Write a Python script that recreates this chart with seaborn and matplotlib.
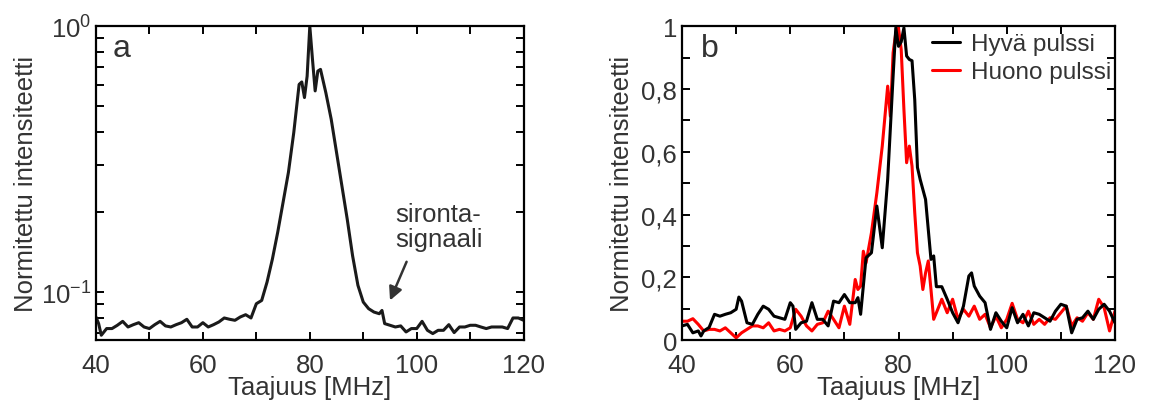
import numpy as np
import pandas as pd
import matplotlib
matplotlib.use("Agg")
import matplotlib.pyplot as plt
from matplotlib.ticker import FixedLocator, FuncFormatter, LogLocator, NullFormatter
import seaborn as sns

# ---------------- data ----------------
# panel a (log scale)
freq_a = [40, 40.5, 41, 42, 43, 44, 45, 46, 47, 48, 49, 50, 51, 52, 53, 54, 55, 56, 57, 58, 59,
          60, 61, 62, 63, 64, 65, 66, 67, 68, 69, 70, 71, 72, 73, 74, 75, 76, 77, 78, 78.5, 79,
          79.5, 80, 80.5, 81, 81.5, 82, 83, 84, 85, 86, 87, 88, 89, 90, 91, 92, 93, 93.5, 94,
          95, 96, 97, 98, 99, 100, 101, 102, 103, 104, 105, 106, 107, 108, 109, 110, 111, 112,
          113, 114, 115, 116, 117, 118, 119, 120]
int_a = [0.0806, 0.0761, 0.0688, 0.0729, 0.0729, 0.0750, 0.0776, 0.0739, 0.0754, 0.0767, 0.0739,
         0.0729, 0.0754, 0.0776, 0.0746, 0.0739, 0.0754, 0.0767, 0.0790, 0.0739, 0.0739,
         0.0767, 0.0739, 0.0754, 0.0772, 0.0799, 0.0790, 0.0783, 0.0806, 0.0822, 0.0799,
         0.0904, 0.0930, 0.109, 0.133, 0.168, 0.2175, 0.282, 0.398, 0.604, 0.617, 0.539,
         0.649, 1.0, 0.75, 0.571, 0.678, 0.688, 0.562, 0.447, 0.335, 0.251, 0.188, 0.137,
         0.106, 0.0917, 0.0866, 0.0841, 0.0829, 0.0853, 0.0761, 0.0750, 0.0739, 0.0746,
         0.0708, 0.0729, 0.0729, 0.0776, 0.0718, 0.0698, 0.0718, 0.0718, 0.0754, 0.0704,
         0.0739, 0.0739, 0.0750, 0.0750, 0.0739, 0.0729, 0.0739, 0.0739, 0.0739, 0.0729,
         0.0799, 0.0799, 0.0783]

# panel b (linear scale)
freq_good = [40, 41, 42, 43, 43.5, 44, 45, 46, 47, 48, 49, 50, 50.5, 51, 52, 53, 54, 55, 56, 57,
             58, 59, 60, 60.5, 61, 62, 63, 64, 65, 66, 67, 68, 69, 70, 71, 72, 72.5, 73, 74, 75,
             76, 77, 78, 79, 79.5, 80, 80.5, 81, 81.5, 82, 82.5, 83, 83.5, 84, 85, 86, 86.5,
             87, 88, 89, 90, 91, 92, 93, 93.5, 94, 95, 96, 97, 98, 99, 100, 101, 102, 103, 104,
             105, 106, 107, 108, 109, 110, 111, 112, 113, 114, 115, 116, 117, 118, 119, 120]
int_good = [0.045, 0.050, 0.023, 0.029, 0.013, 0.029, 0.040, 0.082, 0.076, 0.082, 0.087, 0.098,
            0.137, 0.124, 0.055, 0.050, 0.082, 0.108, 0.098, 0.076, 0.071, 0.066, 0.119, 0.108,
            0.034, 0.055, 0.060, 0.119, 0.066, 0.066, 0.045, 0.124, 0.119, 0.145, 0.119, 0.119,
            0.135, 0.082, 0.262, 0.278, 0.427, 0.294, 0.512, 0.84, 0.995, 0.936, 0.95, 0.995,
            0.905, 0.894, 0.89, 0.766, 0.55, 0.512, 0.448, 0.257, 0.268, 0.170, 0.170, 0.130,
            0.087, 0.055, 0.108, 0.204, 0.214, 0.172, 0.140, 0.119, 0.034, 0.087, 0.060, 0.039,
            0.103, 0.055, 0.082, 0.045, 0.087, 0.082, 0.071, 0.060, 0.092, 0.114, 0.108, 0.023,
            0.066, 0.071, 0.092, 0.066, 0.098, 0.114, 0.092, 0.055]

freq_bad = [40, 41, 42, 43, 44, 45, 46, 47, 48, 49, 50, 51, 52, 53, 54, 55, 56, 57, 58, 59, 60,
            61, 62, 63, 64, 65, 66, 67, 68, 69, 70, 71, 72, 72.5, 73, 73.5, 74, 75, 76, 77, 78,
            78.5, 79, 79.5, 80, 80.5, 81, 81.5, 82, 82.5, 83, 83.5, 84, 84.5, 85, 85.5, 86, 86.5,
            87, 88, 89, 90, 91, 92, 93, 94, 95, 96, 97, 98, 99, 100, 101, 102, 103, 104, 105,
            106, 107, 108, 109, 110, 111, 112, 113, 114, 115, 116, 117, 118, 119, 120]
int_bad = [0.060, 0.060, 0.068, 0.050, 0.029, 0.034, 0.034, 0.029, 0.039, 0.023, 0.007, 0.023,
           0.034, 0.045, 0.045, 0.039, 0.055, 0.029, 0.034, 0.029, 0.039, 0.098, 0.076, 0.045,
           0.029, 0.050, 0.055, 0.092, 0.066, 0.039, 0.108, 0.050, 0.193, 0.161, 0.172, 0.283,
           0.246, 0.342, 0.469, 0.618, 0.809, 0.713, 0.915, 0.979, 0.995, 0.926, 0.735, 0.565,
           0.618, 0.554, 0.406, 0.278, 0.236, 0.161, 0.214, 0.252, 0.161, 0.066, 0.087, 0.130,
           0.087, 0.130, 0.066, 0.098, 0.076, 0.108, 0.066, 0.082, 0.039, 0.076, 0.039, 0.066,
           0.117, 0.066, 0.055, 0.092, 0.050, 0.066, 0.050, 0.071, 0.066, 0.087, 0.108, 0.045,
           0.071, 0.060, 0.087, 0.066, 0.130, 0.103, 0.029, 0.092]

series_names = ["Hyvä pulssi", "Huono pulssi"]
series_colors = ["#000000", "#ff0000"]

xlabel = "Taajuus [MHz]"
ylabel = "Normitettu intensiteetti"

# ---------------- style ----------------
sns.set_style("ticks")
plt.rcParams["font.family"] = ["Liberation Sans", "DejaVu Sans"]
plt.rcParams["mathtext.fontset"] = "custom"
plt.rcParams["mathtext.rm"] = "Liberation Sans"
plt.rcParams["mathtext.it"] = "Liberation Sans:italic"
FS = 18.5
TXT = "#333333"
LW = 2.2

fig = plt.figure(figsize=(11.56, 4.06), dpi=100)
ax_a = fig.add_axes([0.083, 0.160, 0.370, 0.773])
ax_b = fig.add_axes([0.590, 0.160, 0.3745, 0.773])

def style_axes(ax, ylabelpad):
    for s in ax.spines.values():
        s.set_color("black")
        s.set_linewidth(1.6)
    ax.tick_params(which="both", direction="in", top=True, right=True,
                   labelsize=FS, colors="black", labelcolor=TXT, width=1.4, length=6)
    ax.tick_params(axis="x", which="both", pad=9)
    ax.xaxis.set_major_locator(FixedLocator([40, 60, 80, 100, 120]))
    ax.xaxis.set_minor_locator(FixedLocator([50, 70, 90, 110]))
    ax.set_xlim(40, 120)
    ax.set_xlabel(xlabel, fontsize=FS, color=TXT, labelpad=-1)
    ax.set_ylabel(ylabel, fontsize=FS, color=TXT, labelpad=ylabelpad)

# ---------------- panel a ----------------
df_a = pd.DataFrame({"freq": freq_a, "int": int_a})
sns.lineplot(data=df_a, x="freq", y="int", ax=ax_a, color="#1a1a1a", lw=LW)
ax_a.set_yscale("log")
ax_a.set_ylim(0.066, 1.0)
style_axes(ax_a, 2)
ax_a.yaxis.set_major_locator(FixedLocator([0.1, 1.0]))
ax_a.yaxis.set_major_formatter(FuncFormatter(
    lambda v, p: r"$10^{0}$" if v > 0.5 else r"$10^{-1}$"))
ax_a.yaxis.set_minor_locator(LogLocator(base=10, subs=np.arange(2, 10)))
ax_a.yaxis.set_minor_formatter(NullFormatter())
ax_a.text(0.038, 0.904, "a", transform=ax_a.transAxes, fontsize=23, color=TXT, va="baseline")
ax_a.annotate("", xy=(95.0, 0.093), xytext=(98.1, 0.130),
              arrowprops=dict(arrowstyle="-|>", color="#333333", lw=1.8,
                              mutation_scale=20, shrinkA=0, shrinkB=0))
ax_a.text(96.0, 0.218, "sironta-\nsignaali", fontsize=FS, color=TXT,
          ha="left", va="top", linespacing=1.05)

# ---------------- panel b ----------------
df_b = pd.concat([
    pd.DataFrame({"freq": freq_good, "int": int_good, "pulssi": series_names[0]}),
    pd.DataFrame({"freq": freq_bad, "int": int_bad, "pulssi": series_names[1]}),
])
sns.lineplot(data=df_b[df_b["pulssi"] == series_names[1]], x="freq", y="int", ax=ax_b,
             color=series_colors[1], lw=LW, label=series_names[1])
sns.lineplot(data=df_b[df_b["pulssi"] == series_names[0]], x="freq", y="int", ax=ax_b,
             color=series_colors[0], lw=LW, label=series_names[0])
ax_b.set_ylim(0, 1)
style_axes(ax_b, 5)
ax_b.yaxis.set_major_locator(FixedLocator([0, 0.2, 0.4, 0.6, 0.8, 1.0]))
ax_b.yaxis.set_minor_locator(FixedLocator([0.1, 0.3, 0.5, 0.7, 0.9]))
ax_b.yaxis.set_major_formatter(FuncFormatter(
    lambda v, p: ("%g" % round(v, 1)).replace(".", ",")))
ax_b.text(0.044, 0.904, "b", transform=ax_b.transAxes, fontsize=23, color=TXT, va="baseline")
h, l = ax_b.get_legend_handles_labels()
order = [l.index(series_names[0]), l.index(series_names[1])]
leg = ax_b.legend([h[i] for i in order], [l[i] for i in order], loc="center left",
                  bbox_to_anchor=(0.577, 0.898), frameon=False, fontsize=17.5,
                  handlelength=1.15, handletextpad=0.45, labelspacing=0.25,
                  borderpad=0, borderaxespad=0, labelcolor=TXT)

fig.savefig("out.png", dpi=100)
